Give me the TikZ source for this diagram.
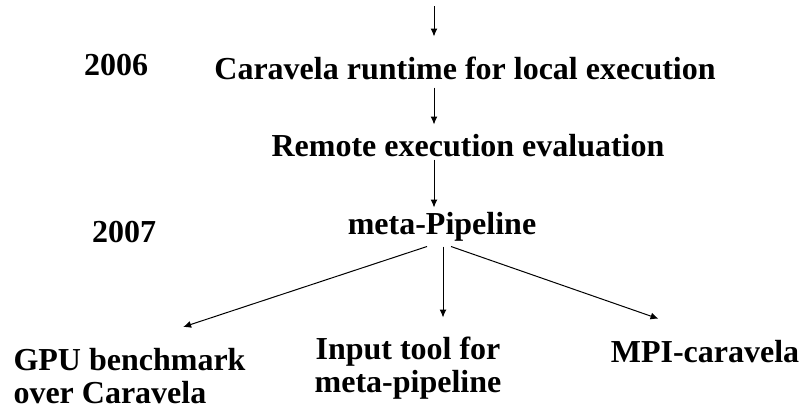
\documentclass[tikz,border=0pt]{standalone}
\usepackage{fontspec}
\setmainfont{Liberation Serif}
\usetikzlibrary{positioning,arrows.meta}

\begin{document}
\begin{tikzpicture}[x=1pt, y=-1pt, line width=1pt, >={Latex[length=8pt,width=7pt]},
    every node/.style={font=\fontsize{32}{33}\selectfont\bfseries, inner sep=0pt},
    stage/.style={anchor=base, text height=22pt, text depth=3pt}]
    \useasboundingbox (0,0) rectangle (802,410);

    \node (year2006) [stage] at (116,75) {2006};
    \node (year2007) [stage] at (124,242) {2007};
    \node (caravela) [stage] at (465,79) {Caravela runtime for local execution};
    \node (remote) [stage] at (468,156) {Remote execution evaluation};
    \node (meta) [stage] at (442,234) {meta-Pipeline};
    \node (gpu) [anchor=north west, align=left] at (13,348) {GPU benchmark\\over Caravela};
    \node (input) [anchor=north, align=center] at (408,336) {Input tool for\\meta-pipeline};
    \node (mpi) [stage] at (705,362) {MPI-caravela};

    \coordinate (axis) at (434,6);
    \draw [->, shorten >=20pt] (axis) -- (axis |- caravela.north);
    \draw [->, shorten <=5pt, shorten >=9pt] (axis |- caravela.south) -- (axis |- remote.north);
    \draw [->, shorten >=4pt] (axis |- remote.south) -- (axis |- meta.north);

    \draw [->, shorten >=67pt] ([xshift=-15pt, yshift=-9pt]meta.south) -- ([xshift=-10pt]gpu.north);
    \draw [->] ([xshift=1pt, yshift=-9pt]meta.south) -- ([xshift=1pt, yshift=-80pt]meta.south);
    \draw [->, shorten >=63pt] ([xshift=9pt, yshift=-9pt]meta.south) -- ([xshift=13pt]mpi.north);
\end{tikzpicture}
\end{document}
